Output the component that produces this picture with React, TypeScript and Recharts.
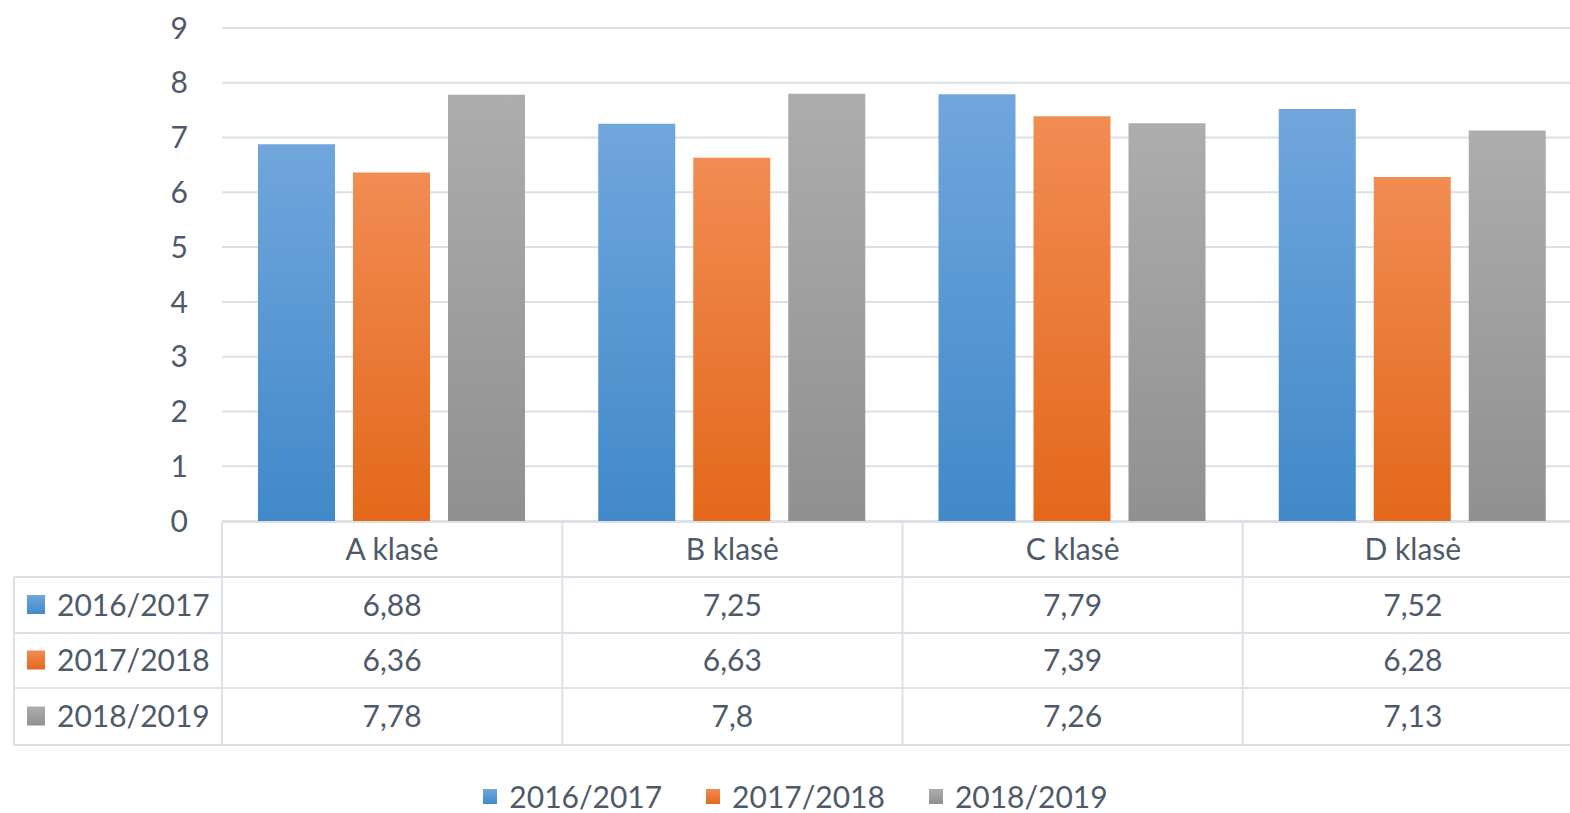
import React from 'react';
import { BarChart, Bar, XAxis, YAxis, CartesianGrid } from 'recharts';

const categories = ['A klasė', 'B klasė', 'C klasė', 'D klasė'];
const seriesNames = ['2016/2017', '2017/2018', '2018/2019'];
const values2016 = [6.88, 7.25, 7.79, 7.52];
const values2017 = [6.36, 6.63, 7.39, 6.28];
const values2018 = [7.78, 7.8, 7.26, 7.13];
const yTicks = [0, 1, 2, 3, 4, 5, 6, 7, 8, 9];

const seriesValues = [values2016, values2017, values2018];
const seriesKeys = ['s0', 's1', 's2'];
const gradTop = ['#70a6dc', '#f18c53', '#adadad'];
const gradBottom = ['#4189c9', '#e3681b', '#909090'];

const data = categories.map((name, i) => ({
  name,
  s0: values2016[i],
  s1: values2017[i],
  s2: values2018[i],
}));

const TEXT = '#4e5a6a';
const LINE = '#dce1e8';
const FONT = 'Lato, "Open Sans", sans-serif';

const CHART_W = 1600;
const CHART_H = 813;
const MARGIN = { top: 28, right: 17, left: 0, bottom: 62 };
const Y_W = 222;
const X_H = 230;
const BAND = (CHART_W - MARGIN.left - MARGIN.right - Y_W) / categories.length;
const ROW_Y = [522, 577, 633, 688, 745];
const TABLE_LEFT = 14;

const fmt = (v: number) => String(v).replace('.', ',');

const TableTick = (props: any) => {
  const { x, index, payload } = props;
  const left = x - BAND / 2;
  const right = x + BAND / 2;
  const plotLeft = MARGIN.left + Y_W;
  return (
    <g>
      {ROW_Y.map((ry, r) => (
        <line key={'h' + r} x1={left} x2={right} y1={ry} y2={ry} stroke={LINE} strokeWidth={2} />
      ))}
      <line x1={left} x2={left} y1={ROW_Y[0]} y2={ROW_Y[4]} stroke={LINE} strokeWidth={2} />
      <text
        x={x}
        y={(ROW_Y[0] + ROW_Y[1]) / 2}
        dy="0.36em"
        textAnchor="middle"
        fontSize={30}
        fill={TEXT}
        fontFamily={FONT}
      >
        {payload.value}
      </text>
      {seriesValues.map((vals, s) => (
        <text
          key={'v' + s}
          x={x}
          y={(ROW_Y[s + 1] + ROW_Y[s + 2]) / 2}
          dy="0.36em"
          textAnchor="middle"
          fontSize={30}
          fill={TEXT}
          fontFamily={FONT}
        >
          {fmt(vals[index])}
        </text>
      ))}
      {index === 0 && (
        <g>
          {ROW_Y.slice(1).map((ry, r) => (
            <line key={'lh' + r} x1={TABLE_LEFT} x2={plotLeft} y1={ry} y2={ry} stroke={LINE} strokeWidth={2} />
          ))}
          <line x1={TABLE_LEFT} x2={TABLE_LEFT} y1={ROW_Y[1]} y2={ROW_Y[4]} stroke={LINE} strokeWidth={2} />
          {seriesNames.map((nm, s) => {
            const cy = (ROW_Y[s + 1] + ROW_Y[s + 2]) / 2;
            return (
              <g key={'ln' + s}>
                <rect x={27} y={cy - 10} width={18} height={19} fill={`url(#grad${s})`} />
                <text x={57} y={cy} dy="0.36em" textAnchor="start" fontSize={30} fill={TEXT} fontFamily={FONT}>
                  {nm}
                </text>
              </g>
            );
          })}
        </g>
      )}
    </g>
  );
};

export default function App() {
  return (
    <div
      style={{
        position: 'fixed',
        left: 0,
        top: 0,
        width: 1570,
        height: 813,
        overflow: 'hidden',
        background: '#ffffff',
        fontFamily: FONT,
      }}
    >
      <div style={{ position: 'relative', width: CHART_W, height: CHART_H }}>
        <BarChart
          width={CHART_W}
          height={CHART_H}
          data={data}
          margin={MARGIN}
          barCategoryGap={36}
          barGap={18}
        >
          <defs>
            {seriesKeys.map((k, s) => (
              <linearGradient key={k} id={`grad${s}`} x1="0" y1="0" x2="0" y2="1">
                <stop offset="0%" stopColor={gradTop[s]} />
                <stop offset="100%" stopColor={gradBottom[s]} />
              </linearGradient>
            ))}
          </defs>
          <CartesianGrid vertical={false} stroke={LINE} strokeWidth={2} />
          <YAxis
            width={Y_W}
            domain={[0, 9]}
            ticks={yTicks}
            interval={0}
            axisLine={false}
            tickLine={false}
            tickSize={0}
            tickMargin={34}
            tick={{ fontSize: 30, fill: TEXT, fontFamily: FONT }}
          />
          <XAxis
            dataKey="name"
            height={X_H}
            axisLine={false}
            tickLine={false}
            interval={0}
            tick={<TableTick />}
          />
          {seriesKeys.map((k, s) => (
            <Bar key={k} dataKey={k} name={seriesNames[s]} fill={`url(#grad${s})`} isAnimationActive={false} />
          ))}
        </BarChart>
        <div
          style={{
            position: 'absolute',
            left: 0,
            top: 781,
            width: 1591,
            height: 30,
            display: 'flex',
            alignItems: 'center',
            justifyContent: 'center',
            fontSize: 30,
            color: TEXT,
            lineHeight: '30px',
          }}
        >
          {seriesNames.map((nm, s) => (
            <div key={nm} style={{ display: 'flex', alignItems: 'center', marginRight: s < seriesNames.length - 1 ? 44 : 0 }}>
              <div
                style={{
                  width: 14,
                  height: 15,
                  marginRight: 12,
                  background: `linear-gradient(${gradTop[s]}, ${gradBottom[s]})`,
                }}
              />
              <span>{nm}</span>
            </div>
          ))}
        </div>
      </div>
    </div>
  );
}
